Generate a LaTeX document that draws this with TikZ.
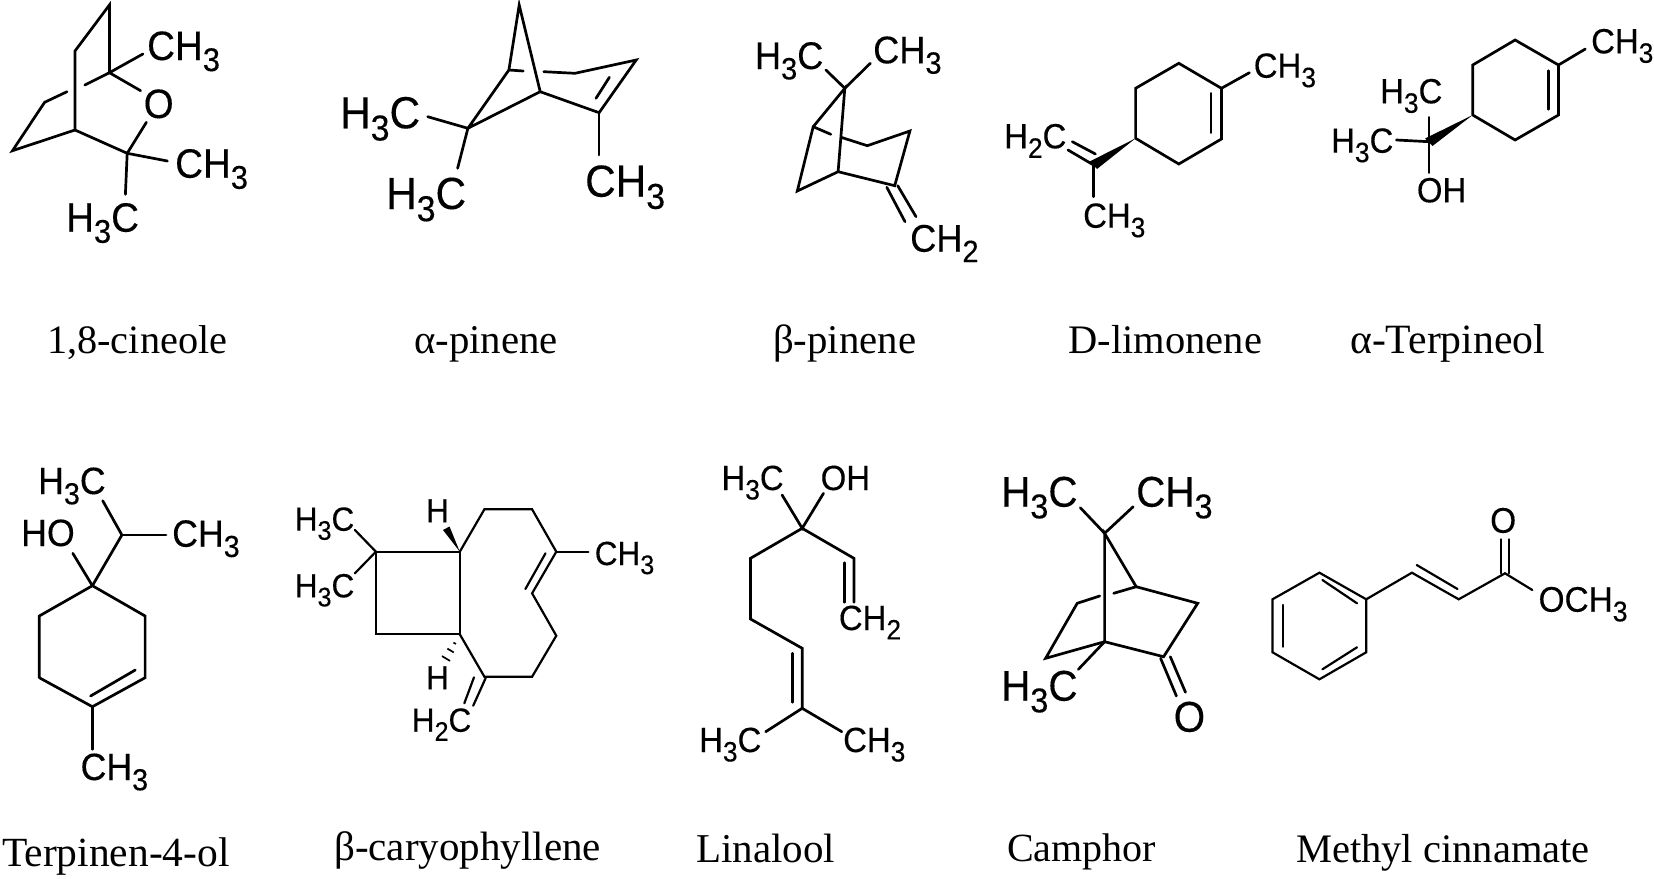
\documentclass[tikz,border=0pt]{standalone}
\usepackage{fontspec}
\setmainfont{Liberation Serif}
\setsansfont[FakeStretch=.94,FakeBold=.25]{Liberation Sans}
\usetikzlibrary{calc}
\newcommand{\sbs}[1]{\raisebox{-.27em}{\scalebox{.8}{#1}}}

\begin{document}
\begin{tikzpicture}[
            x=1pt, y=-1pt,
            bond/.style={line width=2.7pt, line cap=round, line join=miter},
            bondthin/.style={line width=2.2pt, line cap=round, line join=miter},
            atom/.style={anchor=base west, inner sep=0pt, font=\sffamily\fontsize{#1}{#1}\selectfont},
            title/.style={anchor=base west, inner sep=0pt, font=\rmfamily\fontsize{#1}{#1}\selectfont},
        ]
        \useasboundingbox (0,0) rectangle (1654,878);
        \fill[white] (0,0) rectangle (1654,878);

        % 1,8-cineole
        \coordinate (ciA) at (109.4,5);
        \coordinate (ciB) at (75,51);
        \coordinate (ciC) at (109.4,72.7);
        \coordinate (ciD) at (75,130);
        \coordinate (ciE) at (44.6,102.3);
        \coordinate (ciF) at (12.5,150.7);
        \coordinate (ciG) at (127.2,153.3);
        \coordinate (ciGa) at (84.8,85);
        \coordinate (ciGb) at (67,91.7);
        \coordinate (ciMa) at (142.9,54);
        \coordinate (ciOa) at (140.6,90.7);
        \coordinate (ciOb) at (146.4,122.3);
        \coordinate (ciMb) at (167.4,161);
        \coordinate (ciMc) at (125.4,194.3);
        \draw[bond] (ciC) -- (ciA) -- (ciB) -- (ciD) -- (ciF) -- (ciE) -- (ciGb);
        \draw[bond] (ciGa) -- (ciC);
        \draw[bond] (ciMa) -- (ciC) -- (ciOa);
        \draw[bond] (ciOb) -- (ciG) -- (ciD);
        \draw[bond] (ciMb) -- (ciG) -- (ciMc);
        \node[atom=41] (ciCHa) at (147,60) {CH\sbs{3}};
        \node[atom=41] (ciO) at (143.5,118) {O};
        \node[atom=41] (ciCHb) at (175,177.7) {CH\sbs{3}};
        \node[atom=41] (ciHC) at (66,231.7) {H\sbs{3}C};
        \node[title=40.3] (ciName) at (47,353) {1,8-cineole};

        % a-pinene
        \coordinate (apT) at (519.2,5);
        \coordinate (apA) at (508.9,70);
        \coordinate (apB) at (540.2,91.7);
        \coordinate (apC) at (467.9,128.3);
        \coordinate (apD) at (575,73.3);
        \coordinate (apE) at (636.2,60);
        \coordinate (apF) at (599.1,112.7);
        \coordinate (apIa) at (609.4,77.3);
        \coordinate (apIb) at (596,98.3);
        \coordinate (apGa) at (523.2,71);
        \coordinate (apGb) at (543.8,71.7);
        \coordinate (apMa) at (599.1,155);
        \coordinate (apMb) at (427.7,116.7);
        \coordinate (apMc) at (457.6,168.3);
        \draw[bond] (apC) -- (apA) -- (apT) -- (apB) -- (apC);
        \draw[bond] (apB) -- (apF) -- (apE) -- (apD) -- (apGb);
        \draw[bond] (apA) -- (apGa);
        \draw[bond] (apIa) -- (apIb);
        \draw[bond] (apF) -- (apMa);
        \draw[bond] (apMb) -- (apC) -- (apMc);
        \node[atom=45] (apCH) at (585,196.7) {CH\sbs{3}};
        \node[atom=45] (apHCa) at (340,128.3) {H\sbs{3}C};
        \node[atom=45] (apHCb) at (386,209) {H\sbs{3}C};
        \node[title=40.8] (apName) at (414,353) {α-pinene};

        % b-pinene
        \coordinate (bpT) at (844.8,88.3);
        \coordinate (bpL) at (813.2,126.7);
        \coordinate (bpK) at (797.3,191);
        \coordinate (bpB) at (838.1,171.7);
        \coordinate (bpR) at (909.9,131);
        \coordinate (bpM) at (867.3,145.7);
        \coordinate (bpX) at (894.7,185.7);
        \coordinate (bpGa) at (830.8,134.3);
        \coordinate (bpGb) at (841.1,137.3);
        \coordinate (bpDa) at (886.8,187.3);
        \coordinate (bpDb) at (905,221.7);
        \coordinate (bpDc) at (897.7,185.7);
        \coordinate (bpDd) at (916,216.7);
        \coordinate (bpMa) at (825.9,70);
        \coordinate (bpMb) at (870.3,63.3);
        \draw[bond] (bpB) -- (bpT) -- (bpL) -- (bpK) -- (bpB) -- (bpX) -- (bpR) -- (bpM) -- (bpGb);
        \draw[bond] (bpL) -- (bpGa);
        \draw[bond] (bpDa) -- (bpDb);
        \draw[bond] (bpDc) -- (bpDd);
        \draw[bond] (bpMa) -- (bpT) -- (bpMb);
        \node[atom=38.5] (bpHC) at (754.8,69) {H\sbs{3}C};
        \node[atom=38.5] (bpCHa) at (873,63.3) {CH\sbs{3}};
        \node[atom=38.5] (bpCHb) at (910,251.7) {CH\sbs{2}};
        \node[title=40.8] (bpName) at (773,353) {β-pinene};

        % D-limonene
        \coordinate (liA) at (1178.8,63.3);
        \coordinate (liB) at (1221.4,88.3);
        \coordinate (liC) at (1221.4,139);
        \coordinate (liD) at (1178.8,164);
        \coordinate (liE) at (1135.6,138.3);
        \coordinate (liF) at (1135.6,88.3);
        \coordinate (liIa) at (1211,93.3);
        \coordinate (liIb) at (1211,132.7);
        \coordinate (liMa) at (1249.4,72.7);
        \coordinate (liX) at (1093.6,165);
        \coordinate (liWa) at (1089.6,161.5);
        \coordinate (liWb) at (1097,169);
        \coordinate (liDa) at (1068,150);
        \coordinate (liDb) at (1072.3,141.7);
        \coordinate (liDc) at (1095.4,154);
        \coordinate (liMb) at (1093.6,196.7);
        \draw[bond] (liE) -- (liF) -- (liA) -- (liB) -- (liC) -- (liD) -- (liE);
        \draw[bond] (liIa) -- (liIb);
        \draw[bond] (liB) -- (liMa);
        \fill (liE) -- (liWa) -- (liWb) -- cycle;
        \draw[bond] (liX) -- (liDa);
        \draw[bond] (liDb) -- (liDc);
        \draw[bond] (liX) -- (liMb);
        \node[atom=35] (liCHa) at (1253.6,77.7) {CH\sbs{3}};
        \node[atom=35] (liHC) at (1004,148.3) {H\sbs{2}C};
        \node[atom=35] (liCHb) at (1083,227.7) {CH\sbs{3}};
        \node[title=40.5] (liName) at (1068.5,353) {D-limonene};

        % a-Terpineol
        \coordinate (teA) at (1515.1,40);
        \coordinate (teB) at (1558.5,65);
        \coordinate (teC) at (1558.5,115);
        \coordinate (teD) at (1515.1,140);
        \coordinate (teE) at (1472.7,115);
        \coordinate (teF) at (1472.7,65);
        \coordinate (teIa) at (1548.7,70.7);
        \coordinate (teIb) at (1548.7,109.3);
        \coordinate (teMa) at (1585.3,49);
        \coordinate (teX) at (1428.9,141.7);
        \coordinate (teWa) at (1425,138.5);
        \coordinate (teWb) at (1432.5,146);
        \coordinate (teMb) at (1428.9,117.3);
        \coordinate (teMc) at (1396.5,140);
        \coordinate (teOa) at (1428.9,172.7);
        \draw[bond] (teE) -- (teF) -- (teA) -- (teB) -- (teC) -- (teD) -- (teE);
        \draw[bond] (teIa) -- (teIb);
        \draw[bond] (teB) -- (teMa);
        \fill (teE) -- (teWa) -- (teWb) -- cycle;
        \draw[bond] (teMb) -- (teX) -- (teOa);
        \draw[bond] (teMc) -- (teX);
        \node[atom=35] (teCH) at (1591,53.3) {CH\sbs{3}};
        \node[atom=35] (teHCa) at (1380,103.3) {H\sbs{3}C};
        \node[atom=35] (teHCb) at (1331,152.7) {H\sbs{3}C};
        \node[atom=35] (teOH) at (1416.7,202.3) {OH};
        \node[title=41.7] (teName) at (1350,353) {α-Terpineol};

        % Terpinen-4-ol
        \coordinate (tfA) at (92.4,585.7);
        \coordinate (tfB) at (145.1,616);
        \coordinate (tfC) at (145.1,677.7);
        \coordinate (tfD) at (92.4,706.7);
        \coordinate (tfE) at (39.3,677.7);
        \coordinate (tfF) at (39.3,616);
        \coordinate (tfIa) at (135.3,670);
        \coordinate (tfIb) at (90.6,696);
        \coordinate (tfMa) at (92.4,749.3);
        \coordinate (tfX) at (121.9,535);
        \coordinate (tfMb) at (102.7,500.7);
        \coordinate (tfMc) at (166,535);
        \coordinate (tfOa) at (72.8,553.3);
        \draw[bond] (tfE) -- (tfF) -- (tfA) -- (tfB) -- (tfC) -- (tfD) -- (tfE);
        \draw[bond] (tfIa) -- (tfIb);
        \draw[bond] (tfD) -- (tfMa);
        \draw[bond] (tfA) -- (tfX) -- (tfMb);
        \draw[bond] (tfX) -- (tfMc);
        \draw[bond] (tfA) -- (tfOa);
        \node[atom=38] (tfCHa) at (80.4,780) {CH\sbs{3}};
        \node[atom=38] (tfHC) at (38,494) {H\sbs{3}C};
        \node[atom=38] (tfCHb) at (172,546.7) {CH\sbs{3}};
        \node[atom=38] (tfHO) at (21,546) {HO};
        \node[title=41.5] (tfName) at (2,866.5) {Terpinen-4-ol};

        % b-caryophyllene
        \coordinate (caA) at (375.9,551.7);
        \coordinate (caB) at (459.8,551.7);
        \coordinate (caC) at (459.8,634.3);
        \coordinate (caD) at (375.9,634.3);
        \coordinate (caE) at (484.4,509.3);
        \coordinate (caF) at (532.1,509.3);
        \coordinate (caG) at (556.3,551.7);
        \coordinate (caH) at (532.1,593.3);
        \coordinate (caI) at (556.3,635.7);
        \coordinate (caJ) at (532.1,676.7);
        \coordinate (caK) at (484.4,676.7);
        \coordinate (caIa) at (545.5,553.3);
        \coordinate (caIb) at (525.4,589);
        \coordinate (caMa) at (588.4,551.7);
        \coordinate (caMb) at (354.9,530);
        \coordinate (caMc) at (354.9,573.3);
        \coordinate (caWa) at (443,530);
        \coordinate (caWb) at (449.5,526.5);
        \coordinate (caHy) at (446,658.5);
        \coordinate (caDa) at (474,677.3);
        \coordinate (caDb) at (464.3,703.3);
        \coordinate (caDc) at (485.7,678);
        \coordinate (caDd) at (473.2,705.7);
        \draw[bondthin] (caA) -- (caB) -- (caC) -- (caD) -- cycle;
        \draw[bondthin] (caB) -- (caE) -- (caF) -- (caG) -- (caH) -- (caI) -- (caJ) -- (caK) -- (caC);
        \draw[bondthin] (caIa) -- (caIb);
        \draw[bondthin] (caG) -- (caMa);
        \draw[bondthin] (caMb) -- (caA) -- (caMc);
        \fill (caB) -- (caWa) -- (caWb) -- cycle;
        \foreach \t/\w in {.37/1.2,.67/3.2,1/4}
            \draw[line width=1.7pt] ($(caC)!\t!(caHy)+(-\w,-.6*\w)$) -- ($(caC)!\t!(caHy)+(\w,.6*\w)$);
        \draw[bondthin] (caDa) -- (caDb);
        \draw[bondthin] (caDc) -- (caDd);
        \node[atom=33.5] (caCH) at (594.6,565) {CH\sbs{3}};
        \node[atom=33.5] (caHCa) at (294.6,530.7) {H\sbs{3}C};
        \node[atom=33.5] (caHCb) at (294.6,597.3) {H\sbs{3}C};
        \node[atom=33.5] (caHa) at (426,522.3) {H};
        \node[atom=33.5] (caHb) at (426,689.3) {H};
        \node[atom=33.5] (caHC) at (411.6,731.7) {H\sbs{2}C};
        \node[title=41] (caName) at (334,860.7) {β-caryophyllene};

        % Linalool
        \coordinate (lnA) at (802.2,528.3);
        \coordinate (lnB) at (750.5,558.3);
        \coordinate (lnC) at (750.5,619);
        \coordinate (lnD) at (802.2,648.3);
        \coordinate (lnE) at (802.2,708.3);
        \coordinate (lnF) at (853.9,558.3);
        \coordinate (lnG) at (853.9,602.3);
        \coordinate (lnIa) at (844.2,562.7);
        \coordinate (lnIb) at (844.2,602.3);
        \coordinate (lnJa) at (792.5,653.3);
        \coordinate (lnJb) at (792.5,702.3);
        \coordinate (lnMa) at (765.7,731.7);
        \coordinate (lnMb) at (841.8,731.7);
        \coordinate (lnMc) at (782.1,495);
        \coordinate (lnOa) at (823.5,493.3);
        \draw[bond] (lnG) -- (lnF) -- (lnA) -- (lnB) -- (lnC) -- (lnD) -- (lnE);
        \draw[bond] (lnIa) -- (lnIb);
        \draw[bond] (lnJa) -- (lnJb);
        \draw[bond] (lnMa) -- (lnE) -- (lnMb);
        \draw[bond] (lnMc) -- (lnA) -- (lnOa);
        \node[atom=35] (lnHCa) at (721.3,490) {H\sbs{3}C};
        \node[atom=35] (lnOH) at (820.5,490) {OH};
        \node[atom=35] (lnCHa) at (838.7,630) {CH\sbs{2}};
        \node[atom=35] (lnHCb) at (699,752) {H\sbs{3}C};
        \node[atom=35] (lnCHb) at (843,752) {CH\sbs{3}};
        \node[title=41] (lnName) at (696,862.7) {Linalool};

        % Camphor
        \coordinate (cmA) at (1104.6,533.3);
        \coordinate (cmB) at (1104.6,641.7);
        \coordinate (cmC) at (1136.2,586.7);
        \coordinate (cmD) at (1197.7,603.3);
        \coordinate (cmE) at (1163.6,656.7);
        \coordinate (cmF) at (1077.2,603.3);
        \coordinate (cmG) at (1045.6,658.3);
        \coordinate (cmGa) at (1099.7,596);
        \coordinate (cmGb) at (1113.7,593.3);
        \coordinate (cmMa) at (1080.3,507.7);
        \coordinate (cmMb) at (1133.2,506.7);
        \coordinate (cmMc) at (1078.4,669.3);
        \coordinate (cmDa) at (1160.6,658.3);
        \coordinate (cmDb) at (1176.4,696);
        \coordinate (cmDc) at (1170.3,656.7);
        \coordinate (cmDd) at (1185.5,692.3);
        \draw[bond] (cmB) -- (cmA) -- (cmC) -- (cmD) -- (cmE) -- (cmB) -- (cmG) -- (cmF) -- (cmGa);
        \draw[bond] (cmGb) -- (cmC);
        \draw[bond] (cmMa) -- (cmA) -- (cmMb);
        \draw[bond] (cmB) -- (cmMc);
        \draw[bond] (cmDa) -- (cmDb);
        \draw[bond] (cmDc) -- (cmDd);
        \node[atom=43] (cmHCa) at (1001,506.7) {H\sbs{3}C};
        \node[atom=43] (cmCH) at (1136,506.7) {CH\sbs{3}};
        \node[atom=43] (cmHCb) at (1001,700.7) {H\sbs{3}C};
        \node[atom=43] (cmO) at (1173.5,731.7) {O};
        \node[title=40] (cmName) at (1007,861.7) {Camphor};

        % Methyl cinnamate
        \coordinate (mcA) at (1319.4,572.7);
        \coordinate (mcB) at (1366.2,599.3);
        \coordinate (mcC) at (1366.2,652.3);
        \coordinate (mcD) at (1319.4,679.3);
        \coordinate (mcE) at (1272.5,652.3);
        \coordinate (mcF) at (1272.5,599.3);
        \coordinate (mcIa) at (1282.9,605);
        \coordinate (mcIb) at (1282.9,646.7);
        \coordinate (mcIc) at (1322.4,580);
        \coordinate (mcId) at (1357,603.3);
        \coordinate (mcIe) at (1322.4,669.3);
        \coordinate (mcIf) at (1357,647.3);
        \coordinate (mcP) at (1411.9,572.7);
        \coordinate (mcQ) at (1458.7,599.3);
        \coordinate (mcJa) at (1416.7,565);
        \coordinate (mcJb) at (1457.5,589);
        \coordinate (mcR) at (1505,573.3);
        \coordinate (mcDa) at (1500.7,573.3);
        \coordinate (mcDb) at (1500.7,539.3);
        \coordinate (mcDc) at (1509.2,573.3);
        \coordinate (mcDd) at (1509.2,539.3);
        \coordinate (mcOa) at (1532.3,590);
        \draw[bondthin] (mcA) -- (mcB) -- (mcC) -- (mcD) -- (mcE) -- (mcF) -- cycle;
        \draw[bondthin] (mcIa) -- (mcIb);
        \draw[bondthin] (mcIc) -- (mcId);
        \draw[bondthin] (mcIe) -- (mcIf);
        \draw[bondthin] (mcB) -- (mcP) -- (mcQ) -- (mcR) -- (mcOa);
        \draw[bondthin] (mcJa) -- (mcJb);
        \draw[bondthin] (mcDa) -- (mcDb);
        \draw[bondthin] (mcDc) -- (mcDd);
        \node[atom=35.5] (mcO) at (1490,532.7) {O};
        \node[atom=35.5] (mcOCH) at (1538.4,611.7) {OCH\sbs{3}};
        \node[title=40.5] (mcName) at (1296,862) {Methyl cinnamate};
    \end{tikzpicture}
\end{document}
